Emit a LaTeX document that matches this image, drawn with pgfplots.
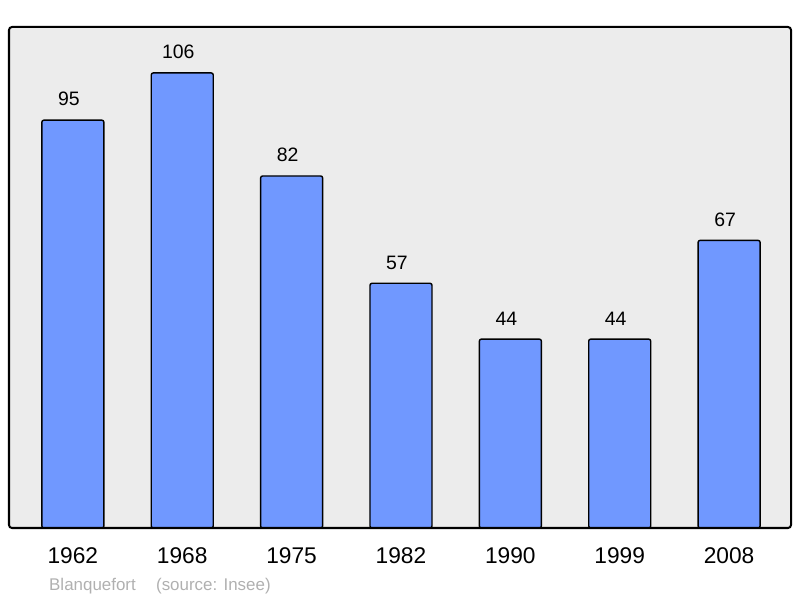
\documentclass[border=0pt]{standalone}
\usepackage{fontspec}
\setmainfont{Liberation Sans}
\usepackage{pgfplots}
\pgfplotsset{compat=1.18}
\usetikzlibrary{calc}
\definecolor{barblue}{RGB}{112,152,255}
\definecolor{bggray}{RGB}{236,236,236}
\definecolor{srcgray}{RGB}{176,176,176}
\begin{document}
\begin{tikzpicture}
\begin{axis}[
    scale only axis,
    width=782bp, height=501bp,
    xmin=-0.584, xmax=6.566,
    ymin=0, ymax=116.7,
    ybar, bar width=62bp,
    axis line style={draw=none},
    axis background/.style={fill=bggray, rounded corners=3bp},
    xtick=data,
    xticklabels={1962,1968,1975,1982,1990,1999,2008},
    xtick style={draw=none},
    ytick=\empty,
    x tick label style={font=\fontsize{22.8}{22.8}\selectfont, yshift=-12bp},
    /pgf/number format/assume math mode=true,
    nodes near coords,
    nodes near coords style={font=\fontsize{19.5}{19.5}\selectfont, xshift=-4bp, yshift=10bp, text=black},
]
\addplot[fill=barblue, draw=black, line width=1.4bp, rounded corners=2bp] coordinates {
    (0,95) (1,106) (2,82) (3,57) (4,44) (5,44) (6,67)
};
\end{axis}
\draw[line width=2bp, rounded corners=3bp] (current axis.south west) rectangle (current axis.north east);
\node[anchor=base west, text=srcgray, font=\fontsize{17}{17}\selectfont, inner sep=0pt]
    at ($(current axis.south west)+(40bp,-62bp)$) {Blanquefort\hspace{1.2em}(source: Insee)};
\pgfresetboundingbox
\path (current axis.south west) ++(-9bp,-70bp) rectangle ++(800bp,598bp);
\end{tikzpicture}
\end{document}
